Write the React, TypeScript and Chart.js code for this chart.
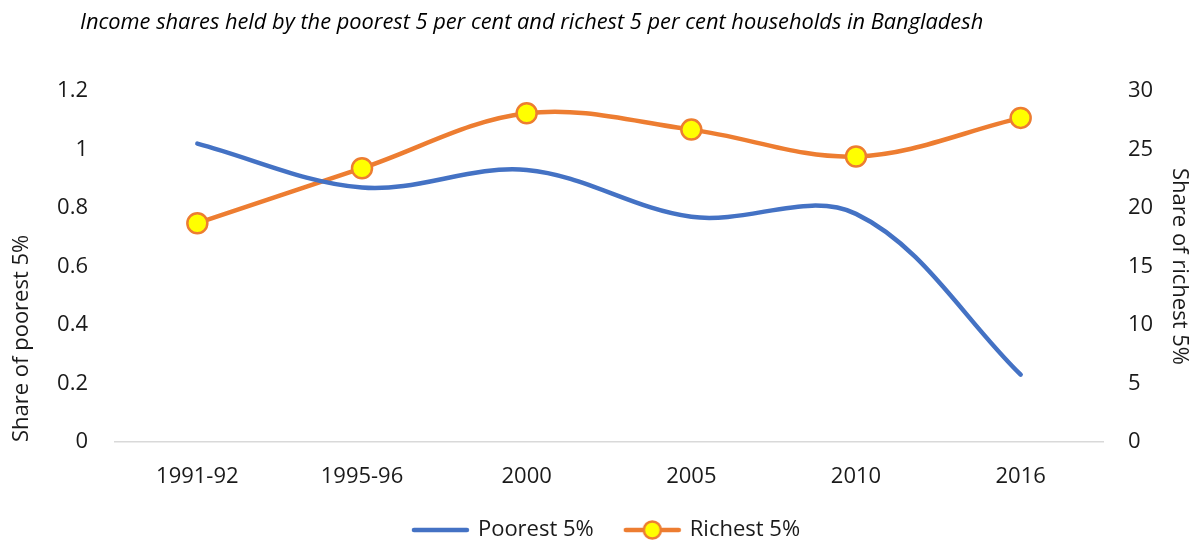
import React, { useEffect, useRef } from "react";
import { Chart, registerables } from "chart.js";

Chart.register(...registerables);

const categories = ["1991-92", "1995-96", "2000", "2005", "2010", "2016"];
const poorestShare = [1.02, 0.87, 0.93, 0.77, 0.78, 0.23];
const richestShare = [18.7, 23.4, 28.1, 26.7, 24.4, 27.7];
const seriesNames = ["Poorest 5%", "Richest 5%"];
const chartTitle =
  "Income shares held by the poorest 5 per cent and richest 5 per cent households in Bangladesh";
const leftAxisTitle = "Share of poorest 5%";
const rightAxisTitle = "Share of richest 5%";

const BLUE = "#4472C4";
const ORANGE = "#ED7D31";
const YELLOW = "#FFFF00";
const FONT = "'Open Sans', sans-serif";
const TEXT = "#1a1a1a";

function makeIcon(withMarker: boolean, color: string): HTMLCanvasElement {
  const c = document.createElement("canvas");
  c.width = 85;
  c.height = 24;
  const ctx = c.getContext("2d")!;
  ctx.strokeStyle = color;
  ctx.lineWidth = 4.5;
  ctx.lineCap = "round";
  ctx.beginPath();
  ctx.moveTo(27, 12);
  ctx.lineTo(80, 12);
  ctx.stroke();
  if (withMarker) {
    ctx.beginPath();
    ctx.arc(53.5, 12, 8.5, 0, Math.PI * 2);
    ctx.fillStyle = YELLOW;
    ctx.fill();
    ctx.lineWidth = 2.5;
    ctx.strokeStyle = color;
    ctx.stroke();
  }
  return c;
}

const fmt = (v: any) => String(Math.round(Number(v) * 100) / 100);

export default function App() {
  const ref = useRef<HTMLCanvasElement | null>(null);

  useEffect(() => {
    if (!ref.current) return;
    const icons = [makeIcon(false, BLUE), makeIcon(true, ORANGE)];

    const titlePlugin = {
      id: "customTitle",
      afterDraw(chart: any) {
        const ctx = chart.ctx;
        ctx.save();
        ctx.font = `italic 21.8px ${FONT}`;
        ctx.fillStyle = "#000000";
        ctx.textBaseline = "alphabetic";
        ctx.textAlign = "left";
        ctx.fillText(chartTitle, 80, 29);
        ctx.restore();
      },
    };

    const chart = new Chart(ref.current, {
      type: "line",
      data: {
        labels: categories,
        datasets: [
          {
            label: seriesNames[0],
            data: poorestShare,
            yAxisID: "y",
            borderColor: BLUE,
            backgroundColor: BLUE,
            borderWidth: 4.5,
            borderCapStyle: "round",
            pointRadius: 0,
            pointHoverRadius: 0,
            tension: 0.35,
            fill: false,
          },
          {
            label: seriesNames[1],
            data: richestShare,
            yAxisID: "y1",
            borderColor: ORANGE,
            backgroundColor: ORANGE,
            borderWidth: 4.5,
            borderCapStyle: "round",
            pointRadius: 10,
            pointBorderWidth: 2.5,
            pointBackgroundColor: YELLOW,
            pointBorderColor: ORANGE,
            tension: 0.35,
            fill: false,
          },
        ],
      },
      options: {
        responsive: true,
        maintainAspectRatio: false,
        animation: false,
        layout: { padding: { top: 91, left: 0, right: 0, bottom: -10 } },
        plugins: {
          tooltip: { enabled: false },
          title: { display: false },
          legend: {
            display: true,
            position: "bottom",
            labels: {
              usePointStyle: true,
              pointStyleWidth: 75,
              padding: 10,
              font: { family: FONT, size: 22 },
              color: TEXT,
              generateLabels: () =>
                seriesNames.map((name, i) => ({
                  text: name,
                  pointStyle: icons[i],
                  fillStyle: "transparent",
                  strokeStyle: "transparent",
                  lineWidth: 0,
                  hidden: false,
                  datasetIndex: i,
                  fontColor: TEXT,
                })),
            },
          },
        },
        scales: {
          x: {
            offset: true,
            grid: { display: false, drawTicks: false },
            border: { display: true, color: "#d9d9d9", width: 1.5 },
            ticks: {
              padding: 22,
              color: TEXT,
              font: { family: FONT, size: 22 },
              maxRotation: 0,
            },
            afterFit: (s: any) => {
              s.height = 67;
            },
          },
          y: {
            position: "left",
            min: 0,
            max: 1.2,
            grid: { display: false, drawTicks: false },
            border: { display: false },
            ticks: {
              stepSize: 0.2,
              padding: 27,
              color: TEXT,
              font: { family: FONT, size: 22 },
              callback: fmt,
            },
            title: {
              display: true,
              text: leftAxisTitle,
              align: "start",
              color: TEXT,
              font: { family: FONT, size: 22 },
              padding: { top: 9, bottom: 0 },
            },
            afterFit: (s: any) => {
              s.width = 115;
            },
          },
          y1: {
            position: "right",
            min: 0,
            max: 30,
            grid: { display: false, drawTicks: false },
            border: { display: false },
            ticks: {
              stepSize: 5,
              padding: 25,
              color: TEXT,
              font: { family: FONT, size: 22 },
              callback: fmt,
            },
            title: {
              display: true,
              text: rightAxisTitle,
              color: TEXT,
              font: { family: FONT, size: 22 },
              padding: { top: 0, bottom: 0 },
            },
            afterFit: (s: any) => {
              s.width = 89;
            },
          },
        },
      },
      plugins: [titlePlugin],
    });
    return () => chart.destroy();
  }, []);

  return (
    <div style={{ position: "absolute", left: 0, top: 0, width: 1192, height: 541 }}>
      <canvas ref={ref} />
    </div>
  );
}
